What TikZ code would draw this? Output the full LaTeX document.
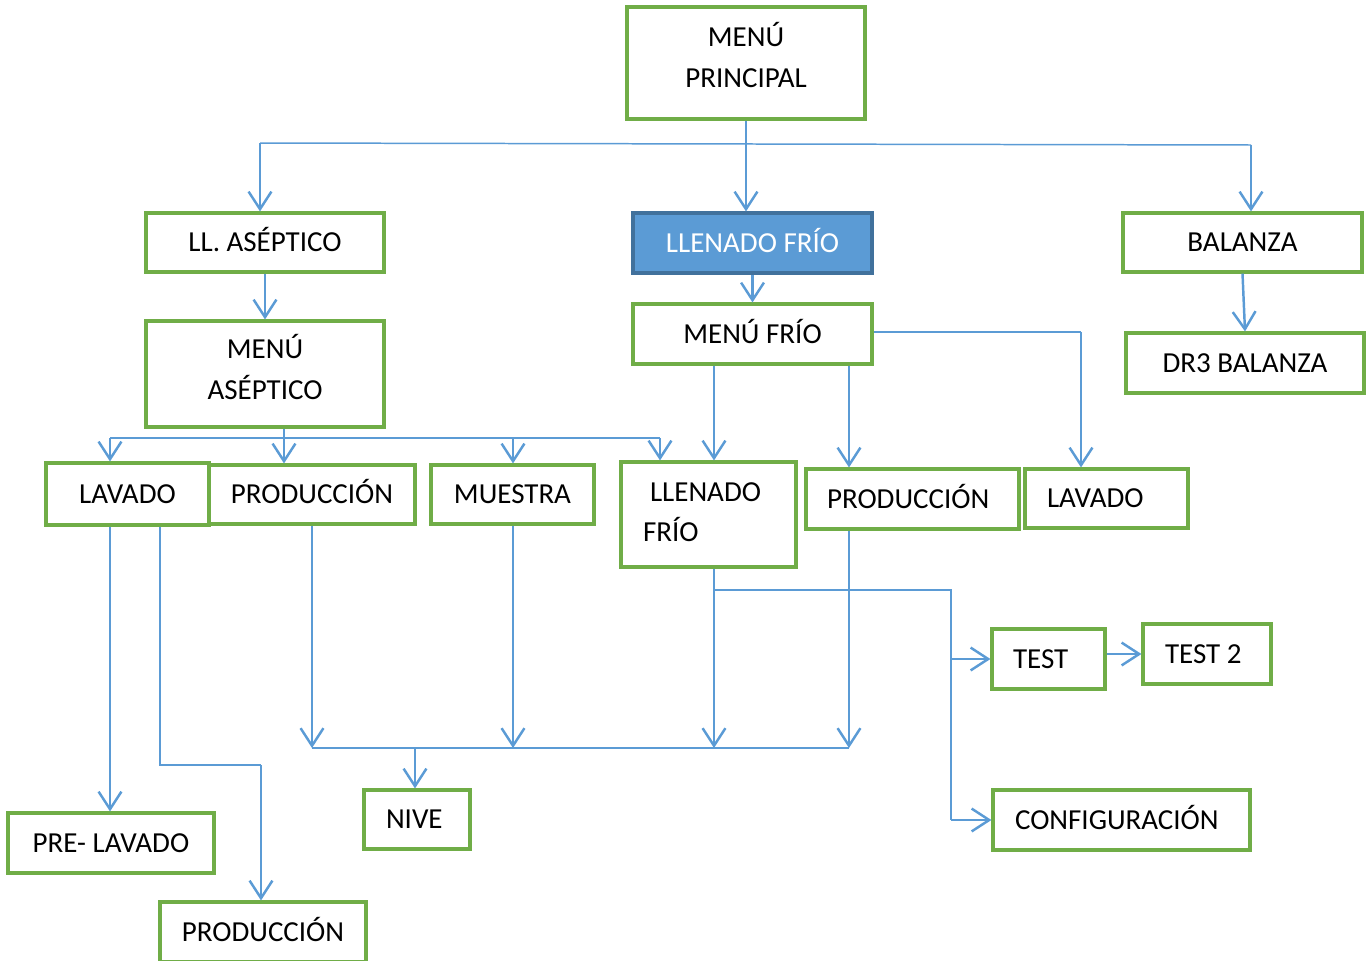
\documentclass[tikz,border=0pt]{standalone}
\usepackage{fontspec}
\setmainfont{Carlito}
\usetikzlibrary{arrows.meta,positioning}
\definecolor{BoxGreen}{HTML}{70AD47}
\definecolor{LineBlue}{HTML}{5B9BD5}
\definecolor{DarkBlue}{HTML}{41719C}

\begin{document}
\begin{tikzpicture}[x=0.02cm, y=-0.02cm,
  box/.style={draw=BoxGreen, line width=1.8pt, fill=white, inner sep=0pt,
              align=center, text height=10.6pt, text depth=0pt,
              font=\fontsize{16.5}{23}\selectfont},
  sel/.style={box, fill=LineBlue, draw=DarkBlue, text=white},
  lpad/.style={align=flush left, text width=#1},
  arr/.style={draw=LineBlue, line width=1.4pt,
              -{Straight Barb[length=10pt,width=13pt,line width=1.4pt]}},
  bus/.style={draw=LineBlue, line width=0.85pt}]
  \useasboundingbox (0,0) rectangle (1371,960);

  % top level
  \node[box, text height=33.6pt, text depth=6.2pt, minimum width=4.76cm, minimum height=2.24cm]
    (principal) at (746,63) {MENÚ\\PRINCIPAL};
  \node[box, minimum width=4.76cm, minimum height=1.18cm] (asep) at (265,242.5) {LL. ASÉPTICO};
  \node[sel, minimum width=4.78cm, minimum height=1.2cm] (frio) at (752.5,243) {LLENADO FRÍO};
  \node[box, minimum width=4.78cm, minimum height=1.18cm] (balanza) at (1242.5,242.5) {BALANZA};
  \node[box, minimum width=4.76cm, minimum height=1.2cm] (dr3) at (1245,363) {DR3 BALANZA};
  \node[box, minimum width=4.78cm, minimum height=1.2cm] (menufrio) at (752.5,334) {MENÚ FRÍO};
  \node[box, text height=33.6pt, text depth=5pt, minimum width=4.76cm, minimum height=2.12cm]
    (menuasep) at (265,374) {MENÚ\\ASÉPTICO};

  % second level
  \node[box, minimum width=4.12cm, minimum height=1.18cm] (prod1) at (312,494.5) {PRODUCCIÓN};
  \node[box, minimum width=3.26cm, minimum height=1.24cm] (lav1) at (127.5,494) {LAVADO};
  \node[box, minimum width=3.26cm, minimum height=1.18cm] (muestra) at (512.5,494.5) {MUESTRA};
  \node[box, text height=10.6pt, text depth=25.8pt, lpad=3.5cm, minimum height=2.1cm]
    (llfrio) at (708.5,514.5) {\hspace*{0.58cm}LLENADO\\\hspace*{0.44cm}FRÍO};
  \node[box, lpad=4.26cm, minimum height=1.2cm] (prod2) at (912.5,499) {\hspace*{0.42cm}PRODUCCIÓN};
  \node[box, lpad=3.26cm, minimum height=1.18cm] (lav2) at (1106.5,498.5) {\hspace*{0.44cm}LAVADO};

  % bottom
  \node[box, lpad=2.26cm, minimum height=1.2cm] (test) at (1048.5,659) {\hspace*{0.42cm}TEST};
  \node[box, lpad=2.56cm, minimum height=1.2cm] (test2) at (1207,654) {\hspace*{0.44cm}TEST 2};
  \node[box, lpad=5.14cm, minimum height=1.2cm] (config) at (1121.5,820) {\hspace*{0.44cm}CONFIGURACIÓN};
  \node[box, lpad=2.12cm, minimum height=1.18cm] (nive) at (417,819.5) {\hspace*{0.44cm}NIVE};
  \node[box, minimum width=4.12cm, minimum height=1.2cm] (prelav) at (111,843) {PRE- LAVADO};
  \node[box, minimum width=4.12cm, minimum height=1.2cm] (prod3) at (263,932) {PRODUCCIÓN};

  % connectors from the main menu
  \coordinate (t1) at (260,143);
  \coordinate (t2) at (1251,145);
  \draw[bus] (t1) -- (t2);
  \draw[arr] (principal.south) -- (principal.south |- frio.north);
  \draw[arr] (t1) -- (t1 |- asep.north);
  \draw[arr] (t2) -- (t2 |- balanza.north);
  \draw[arr] (asep.south) -- (menuasep.north);
  \draw[arr] (frio.south) -- (menufrio.north);
  \draw[arr] (balanza.south) -- (dr3.north);

  % aseptic menu
  \coordinate (b1) at (110,438);
  \coordinate (b2) at (660,438);
  \coordinate (ma) at (284,438);
  \coordinate (mu) at (513,438);
  \draw[bus] (b1) -- (b2);
  \draw[arr] (menuasep.south -| ma) -- (ma |- prod1.north);
  \draw[arr] (b1) -- (b1 |- lav1.north);
  \draw[arr] (mu) -- (mu |- muestra.north);
  \draw[arr] (b2) -- (b2 |- llfrio.north);

  % cold menu
  \coordinate (f1) at (714,0);
  \coordinate (f2) at (849,0);
  \coordinate (f3) at (1081,332);
  \draw[arr] (menufrio.south -| f1) -- (f1 |- llfrio.north);
  \draw[arr] (menufrio.south -| f2) -- (f2 |- prod2.north);
  \draw[bus] (menufrio.east |- f3) -- (f3);
  \draw[bus, -{Straight Barb[length=10pt,width=13pt,line width=1.4pt]}] (f3) -- (f3 |- lav2.north);

  % washing
  \coordinate (l1) at (110,0);
  \coordinate (l2) at (160,765);
  \coordinate (l3) at (261,765);
  \draw[arr] (lav1.south -| l1) -- (l1 |- prelav.north);
  \draw[bus] (lav1.south -| l2) -- (l2) -- (l3);
  \draw[arr] (l3) -- (l3 |- prod3.north);

  % level bus
  \coordinate (n1) at (312,748);
  \coordinate (n2) at (849,748);
  \coordinate (nv) at (415,748);
  \draw[bus] (n1) -- (n2);
  \draw[arr] (prod1.south) -- (n1);
  \draw[arr] (muestra.south -| mu) -- (mu |- n1);
  \draw[arr] (llfrio.south -| f1) -- (f1 |- n1);
  \draw[arr] (prod2.south -| f2) -- (f2 |- n1);
  \draw[arr] (nv) -- (nv |- nive.north);

  % test and configuration
  \coordinate (c0) at (714,590);
  \coordinate (c1) at (951,590);
  \draw[bus] (c0) -- (c1) -- (c1 |- config.west);
  \draw[arr] (c1 |- test.west) -- (test.west);
  \draw[arr] (c1 |- config.west) -- (config.west);
  \draw[arr] (test.east |- test2.west) -- (test2.west);
\end{tikzpicture}
\end{document}
